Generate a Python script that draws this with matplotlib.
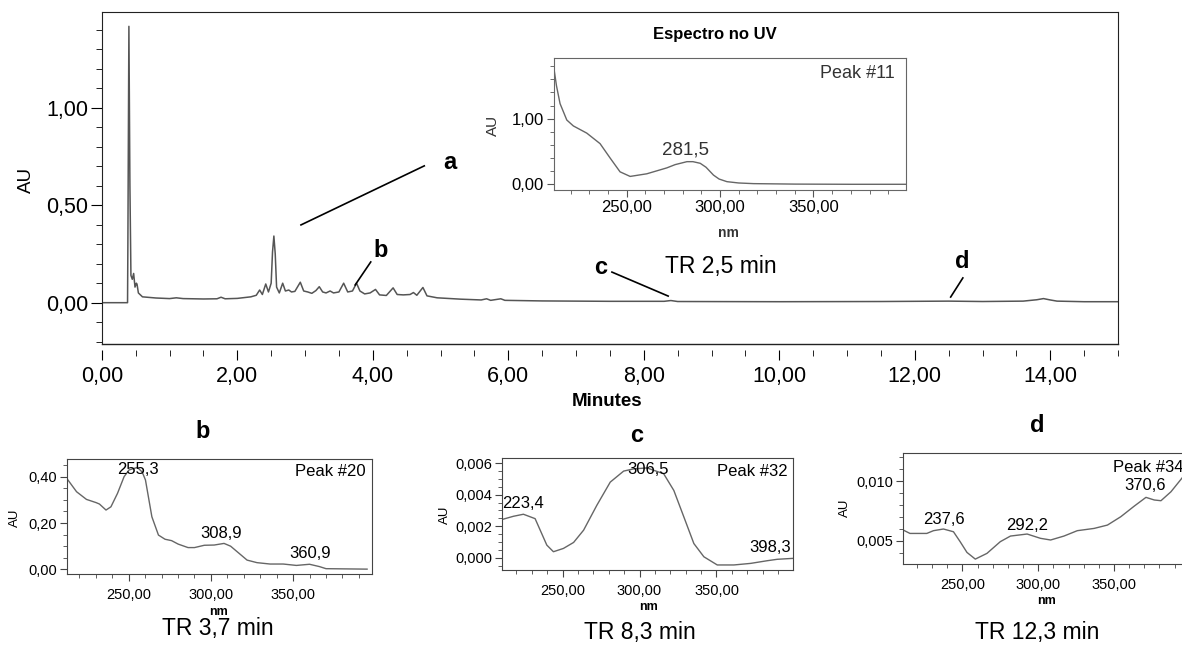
import matplotlib
matplotlib.use("Agg")
import matplotlib.pyplot as plt
from matplotlib.ticker import MultipleLocator, FuncFormatter

plt.rcParams['font.family'] = ['Liberation Sans', 'DejaVu Sans']

W, H = 1182, 650

# cromatograma (min, AU)
tempo = [0.00, 0.38, 0.385, 0.40, 0.415, 0.43, 0.45, 0.47, 0.49, 0.51, 0.52, 0.54,
         0.60, 0.80, 1.00, 1.10, 1.20, 1.50, 1.70, 1.76, 1.82, 2.00, 2.20, 2.28,
         2.33, 2.37, 2.42, 2.46, 2.50, 2.52, 2.54, 2.56, 2.58, 2.62, 2.67, 2.71, 2.76, 2.80,
         2.85, 2.93, 2.98, 3.04, 3.10, 3.16, 3.21, 3.26, 3.31, 3.37, 3.42, 3.50,
         3.57, 3.63, 3.70, 3.76, 3.81, 3.88, 3.96, 4.04, 4.10, 4.20, 4.30, 4.36,
         4.45, 4.55, 4.60, 4.65, 4.74, 4.80, 4.95, 5.30, 5.60, 5.68, 5.74, 5.89,
         5.95, 6.50, 7.50, 8.30, 8.40, 8.50, 10.00, 11.50, 12.50, 13.00, 13.60,
         13.80, 13.90, 14.00, 14.10, 14.50, 15.00]
au = [0.000, 0.000, 0.300, 1.418, 0.600, 0.140, 0.120, 0.150, 0.080, 0.100, 0.095, 0.050,
      0.030, 0.024, 0.021, 0.025, 0.021, 0.019, 0.020, 0.028, 0.020, 0.022, 0.030, 0.038,
      0.065, 0.042, 0.096, 0.055, 0.100, 0.260, 0.342, 0.250, 0.080, 0.050, 0.100, 0.060, 0.065, 0.055,
      0.058, 0.105, 0.060, 0.055, 0.048, 0.062, 0.082, 0.055, 0.050, 0.060, 0.050, 0.055,
      0.100, 0.055, 0.060, 0.100, 0.060, 0.045, 0.050, 0.068, 0.040, 0.037, 0.076, 0.042,
      0.040, 0.042, 0.052, 0.038, 0.078, 0.035, 0.025, 0.018, 0.014, 0.020, 0.012, 0.020,
      0.012, 0.009, 0.007, 0.007, 0.011, 0.006, 0.005, 0.006, 0.008, 0.006, 0.008,
      0.015, 0.021, 0.014, 0.008, 0.005, 0.005]

# espectro UV pico 11 (TR 2,5 min)
nm_a = [211, 212.5, 214.4, 218, 221.5, 228.7, 235.8, 241.2, 246.5, 251.9, 260.8, 271.5,
        276, 282.3, 285.5, 289.4, 292.5, 296.5, 299.5, 303.7, 310, 318, 340, 370, 400]
au_a = [1.79, 1.50, 1.23, 0.98, 0.89, 0.78, 0.62, 0.40, 0.19, 0.12, 0.16, 0.25,
        0.30, 0.345, 0.345, 0.32, 0.26, 0.14, 0.08, 0.04, 0.02, 0.01, 0.003, 0.0, 0.0]

# pico 20 (TR 3,7 min)
nm_b = [212.3, 218.3, 224.3, 230.2, 232.2, 236.2, 239.2, 243.2, 247.2, 250.2, 255.3,
        258.2, 260.2, 264.1, 268.1, 272.1, 276.1, 280.1, 286.1, 290, 296, 302, 308,
        312, 316, 322, 328, 336, 344, 352, 360, 366, 370, 395]
au_b = [0.393, 0.335, 0.302, 0.288, 0.282, 0.256, 0.270, 0.328, 0.400, 0.429, 0.440,
        0.420, 0.386, 0.227, 0.148, 0.130, 0.124, 0.109, 0.094, 0.094, 0.104, 0.105, 0.112,
        0.100, 0.076, 0.040, 0.029, 0.023, 0.023, 0.017, 0.022, 0.012, 0.003, 0.001]

# pico 32 (TR 8,3 min)
nm_c = [210.5, 218.1, 224.6, 232.2, 235.5, 239.8, 244.1, 250.6, 257.2, 263.7, 272.3,
        281, 289.7, 296.2, 304.9, 315.7, 322.3, 328.8, 335.3, 341.8, 350.5, 361.3,
        372.2, 383, 389.5, 400]
au_c = [0.00242, 0.00263, 0.00276, 0.00248, 0.00175, 0.00080, 0.00038, 0.00059,
        0.00097, 0.00175, 0.00333, 0.00480, 0.00550, 0.00564, 0.00570, 0.00533,
        0.00427, 0.00259, 0.00090, 0.00006, -0.00046, -0.00046, -0.00036, -0.00019,
        -0.00010, -0.00004]

# pico 34 (TR 12,3 min)
nm_d = [211, 215.4, 226.5, 230.9, 237.5, 244.1, 248.5, 253, 258.5, 266.2, 275,
        281.7, 292.7, 301.5, 308.2, 317, 325.8, 336.9, 345.7, 354.5, 363.4, 371.1,
        376.6, 381, 387.6, 395.6, 400]
au_d = [0.00589, 0.00561, 0.00561, 0.00584, 0.00598, 0.00575, 0.00492, 0.00402,
        0.00346, 0.00394, 0.00492, 0.00539, 0.00556, 0.00520, 0.00506, 0.00539,
        0.00584, 0.00603, 0.00631, 0.00701, 0.00790, 0.00863, 0.00841, 0.00835,
        0.00910, 0.01036, 0.01100]


def caixa(l, t, r, b):
    return [l / W, 1 - b / H, (r - l) / W, (b - t) / H]


def texto(x, y, s, **kw):
    kw.setdefault('ha', 'center')
    kw.setdefault('va', 'center')
    fig.text(x / W, 1 - y / H, s, **kw)


def virgula(n):
    return FuncFormatter(lambda v, p: f"{v:.{n}f}".replace('.', ','))


fig = plt.figure(figsize=(W / 100, H / 100), dpi=100)

# ---- cromatograma principal
ax = fig.add_axes(caixa(101.8, 12.3, 1118, 344))
ax.plot(tempo, au, color='#555555', lw=1.1)
ax.set_xlim(0, 15)
ax.set_ylim(-0.212, 1.49)
ax.xaxis.set_major_locator(MultipleLocator(2))
ax.xaxis.set_minor_locator(MultipleLocator(0.5))
ax.yaxis.set_major_locator(MultipleLocator(0.5))
ax.yaxis.set_minor_locator(MultipleLocator(0.1))
ax.xaxis.set_major_formatter(virgula(2))
ax.yaxis.set_major_formatter(virgula(2))
ax.tick_params(axis='both', which='major', labelsize=15.5, direction='out')
ax.tick_params(axis='y', which='major', length=8, pad=2)
ax.tick_params(axis='y', which='minor', length=4.3)
ax.tick_params(axis='x', which='major', length=7, pad=5)
ax.tick_params(axis='x', which='minor', length=4)
ax.spines['bottom'].set_position(('outward', 4))
ax.spines['bottom'].set_color('none')
ax.plot([0, 1], [0, 0], transform=ax.transAxes, color='#222222', lw=1, clip_on=False)
for s in ['left', 'top', 'right']:
    ax.spines[s].set_color('#222222')

texto(26, 180, 'AU', fontsize=13.5, rotation=90)
texto(607, 402, 'Minutes', fontsize=13.5, fontweight='bold')

# marcações a, b, c, d
ax.plot([2.94, 4.76], [0.399, 0.702], color='black', lw=1.2)
ax.text(5.14, 0.717, 'a', fontsize=17, fontweight='bold', ha='center', va='center')
ax.plot([3.97, 3.74], [0.209, 0.091], color='black', lw=1.2)
ax.text(4.11, 0.27, 'b', fontsize=17, fontweight='bold', ha='center', va='center')
ax.plot([7.53, 8.36], [0.157, 0.034], color='black', lw=1.2)
ax.text(7.36, 0.178, 'c', fontsize=17, fontweight='bold', ha='center', va='center')
ax.plot([12.71, 12.53], [0.127, 0.029], color='black', lw=1.2)
ax.text(12.70, 0.209, 'd', fontsize=17, fontweight='bold', ha='center', va='center')
texto(721, 266, 'TR 2,5 min', fontsize=16.5)

# ---- espectro inserido
texto(715, 35, 'Espectro no UV', fontsize=12, fontweight='bold')
axi = fig.add_axes(caixa(553.7, 57.7, 906, 190))
axi.plot(nm_a, au_a, color='#666666', lw=1)
axi.set_xlim(211, 399.5)
axi.set_ylim(-0.087, 1.93)
axi.xaxis.set_major_locator(MultipleLocator(50))
axi.xaxis.set_minor_locator(MultipleLocator(10))
axi.yaxis.set_major_locator(MultipleLocator(1))
axi.yaxis.set_minor_locator(MultipleLocator(0.2))
axi.xaxis.set_major_formatter(virgula(2))
axi.yaxis.set_major_formatter(virgula(2))
axi.tick_params(which='major', labelsize=12, length=5, pad=2, color='#555555')
axi.tick_params(which='minor', length=3, color='#555555')
for s in axi.spines.values():
    s.set_color('#666666')
texto(493, 125, 'AU', fontsize=11, rotation=90, color='#333333')
texto(728, 233, 'nm', fontsize=10, fontweight='bold', color='#333333')
texto(685, 150, '281,5', fontsize=13.5, color='#333333')
texto(857, 73, 'Peak #11', fontsize=13, color='#333333')


def painel(caixa_px, nm, val, xlim, ylim, ymaj, ymin, dec):
    a = fig.add_axes(caixa(*caixa_px))
    a.plot(nm, val, color='#666666', lw=1)
    a.set_xlim(*xlim)
    a.set_ylim(*ylim)
    a.xaxis.set_major_locator(MultipleLocator(50))
    a.xaxis.set_minor_locator(MultipleLocator(10))
    a.yaxis.set_major_locator(MultipleLocator(ymaj))
    a.yaxis.set_minor_locator(MultipleLocator(ymin))
    a.xaxis.set_major_formatter(virgula(2))
    a.yaxis.set_major_formatter(virgula(dec))
    a.tick_params(which='major', labelsize=10.5, length=5, pad=2, color='#444444')
    a.tick_params(axis='x', which='major', pad=5)
    a.tick_params(which='minor', length=3, color='#444444')
    for s in a.spines.values():
        s.set_color('#444444')
    return a


# ---- painel b
painel((66.7, 459.3, 371.7, 574), nm_b, au_b, (212.3, 397.8), (-0.02, 0.475), 0.2, 0.05, 2)
texto(203, 432, 'b', fontsize=17, fontweight='bold')
texto(15, 518, 'AU', fontsize=9.5, rotation=90)
texto(138, 470, '255,3', fontsize=12)
texto(221, 533, '308,9', fontsize=12)
texto(310, 554, '360,9', fontsize=12)
texto(330, 472, 'Peak #20', fontsize=12)
texto(218, 612, 'nm', fontsize=9, fontweight='bold')
texto(218, 628, 'TR 3,7 min', fontsize=16.5)

# ---- painel c
painel((501.7, 457.7, 792.7, 570), nm_c, au_c, (210.5, 399.5), (-0.00078, 0.00635), 0.002, 0.0005, 3)
texto(637, 436, 'c', fontsize=17, fontweight='bold')
texto(445, 515, 'AU', fontsize=9.5, rotation=90)
texto(502, 504, '223,4', fontsize=12, ha='left')
texto(648, 470, '306,5', fontsize=12)
texto(770, 547, '398,3', fontsize=12)
texto(752, 471, 'Peak #32', fontsize=12)
texto(648, 607, 'nm', fontsize=9, fontweight='bold')
texto(640, 633, 'TR 8,3 min', fontsize=16.5)

# ---- painel d (cortado na borda direita)
painel((903.3, 453.3, 1189, 564), nm_d, au_d, (211, 399.5), (0.00305, 0.01232), 0.005, 0.001, 3)
texto(1037, 425, 'd', fontsize=17, fontweight='bold')
texto(845, 508, 'AU', fontsize=9.5, rotation=90)
texto(944, 519, '237,6', fontsize=12)
texto(1027, 525, '292,2', fontsize=12)
texto(1145, 486, '370,6', fontsize=12)
texto(1113, 467, 'Peak #34', fontsize=12, ha='left')
texto(1047, 601, 'nm', fontsize=9, fontweight='bold')
texto(1037, 633, 'TR 12,3 min', fontsize=16.5)

fig.savefig('out.png', dpi=100)
